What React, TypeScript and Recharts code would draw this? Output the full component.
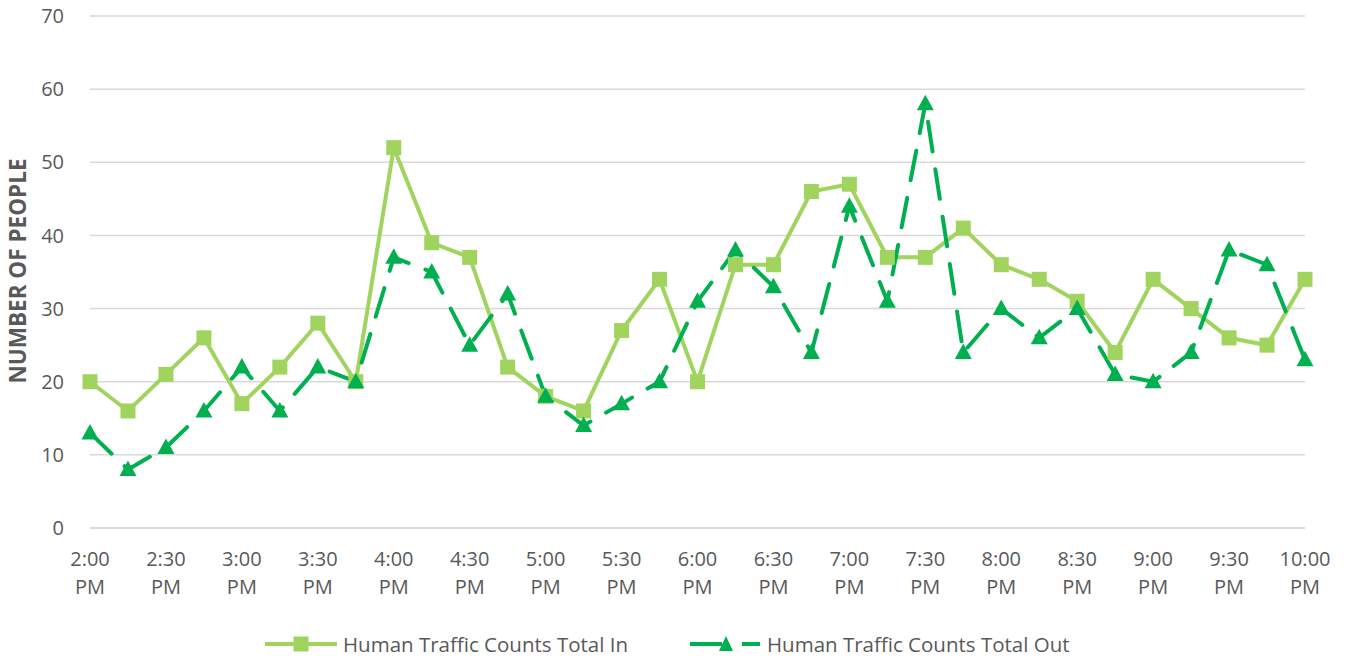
import React from "react";
import { LineChart, Line, XAxis, YAxis, CartesianGrid } from "recharts";

const times = [
  "2:00 PM", "2:15 PM", "2:30 PM", "2:45 PM", "3:00 PM", "3:15 PM", "3:30 PM", "3:45 PM",
  "4:00 PM", "4:15 PM", "4:30 PM", "4:45 PM", "5:00 PM", "5:15 PM", "5:30 PM", "5:45 PM",
  "6:00 PM", "6:15 PM", "6:30 PM", "6:45 PM", "7:00 PM", "7:15 PM", "7:30 PM", "7:45 PM",
  "8:00 PM", "8:15 PM", "8:30 PM", "8:45 PM", "9:00 PM", "9:15 PM", "9:30 PM", "9:45 PM",
  "10:00 PM",
];
const totalIn = [20, 16, 21, 26, 17, 22, 28, 20, 52, 39, 37, 22, 18, 16, 27, 34, 20, 36, 36, 46, 47, 37, 37, 41, 36, 34, 31, 24, 34, 30, 26, 25, 34];
const totalOut = [13, 8, 11, 16, 22, 16, 22, 20, 37, 35, 25, 32, 18, 14, 17, 20, 31, 38, 33, 24, 44, 31, 58, 24, 30, 26, 30, 21, 20, 24, 38, 36, 23];
const yTicks = [0, 10, 20, 30, 40, 50, 60, 70];

const IN_COLOR = "#A1D45E";
const OUT_COLOR = "#00B050";
const TEXT = "#595959";
const GRID = "#D9D9D9";

const data = times.map((t, i) => ({ time: t, in: totalIn[i], out: totalOut[i] }));

const Square = (props: any) => {
  const { cx, cy } = props;
  if (cx == null || cy == null) return null;
  return <rect x={cx - 7.5} y={cy - 7.5} width={15} height={15} fill={IN_COLOR} />;
};

const Triangle = (props: any) => {
  const { cx, cy } = props;
  if (cx == null || cy == null) return null;
  return <path d={`M${cx},${cy - 9} L${cx + 8.5},${cy + 6.5} L${cx - 8.5},${cy + 6.5} Z`} fill={OUT_COLOR} />;
};

const TimeTick = (props: any) => {
  const { x, y, payload } = props;
  const [hm, ap] = String(payload.value).split(" ");
  return (
    <g>
      <text x={x} y={y + 30} textAnchor="middle" fill={TEXT} fontSize={20}>{hm}</text>
      <text x={x} y={y + 58} textAnchor="middle" fill={TEXT} fontSize={20}>{ap}</text>
    </g>
  );
};

const LegendBox = () => (
  <div style={{ position: "relative", height: 30, fontSize: 20.5, color: TEXT }}>
    <div style={{ position: "absolute", left: 265, top: 0, display: "flex", alignItems: "center", height: 30 }}>
      <svg width={72} height={20}>
        <line x1={0} y1={10} x2={72} y2={10} stroke={IN_COLOR} strokeWidth={4} />
        <rect x={28.5} y={2.5} width={15} height={15} fill={IN_COLOR} />
      </svg>
      <span style={{ marginLeft: 6, whiteSpace: "nowrap" }}>Human Traffic Counts Total In</span>
    </div>
    <div style={{ position: "absolute", left: 690, top: 0, display: "flex", alignItems: "center", height: 30 }}>
      <svg width={70} height={20}>
        <line x1={0} y1={10} x2={32} y2={10} stroke={OUT_COLOR} strokeWidth={4} />
        <line x1={52} y1={10} x2={70} y2={10} stroke={OUT_COLOR} strokeWidth={4} />
        <path d="M36,2 L43,17 L29,17 Z" fill={OUT_COLOR} />
      </svg>
      <span style={{ marginLeft: 7, whiteSpace: "nowrap" }}>Human Traffic Counts Total Out</span>
    </div>
  </div>
);

export default function App() {
  return (
    <div style={{ position: "fixed", left: 0, top: 0, width: 1347, height: 659, background: "#fff", fontFamily: "'Open Sans', sans-serif" }}>
      <LineChart width={1347} height={600} data={data} margin={{ top: 16, right: 42, left: 0, bottom: 0 }}>
        <CartesianGrid vertical={false} stroke={GRID} strokeWidth={1.5} />
        <XAxis
          dataKey="time"
          interval={1}
          tickLine={false}
          axisLine={{ stroke: GRID, strokeWidth: 1.5 }}
          tick={<TimeTick />}
          height={72}
        />
        <YAxis
          domain={[0, 70]}
          ticks={yTicks}
          width={90}
          tickLine={false}
          axisLine={false}
          tickSize={0}
          tickMargin={26}
          tick={{ fill: TEXT, fontSize: 20 }}
          label={() => (
            <text x={26} y={271} transform="rotate(-90 26 271)" textAnchor="middle" fill={TEXT} fontSize={22.5} fontWeight="bold">
              NUMBER OF PEOPLE
            </text>
          )}
        />
        <Line dataKey="in" stroke={IN_COLOR} strokeWidth={4} dot={<Square />} activeDot={false} isAnimationActive={false} />
        <Line dataKey="out" stroke={OUT_COLOR} strokeWidth={4} strokeLinecap="round" strokeDasharray="30 18" dot={<Triangle />} activeDot={false} isAnimationActive={false} />
      </LineChart>
      <div style={{ position: "absolute", left: 0, top: 629, width: 1347 }}>
        <LegendBox />
      </div>
    </div>
  );
}
